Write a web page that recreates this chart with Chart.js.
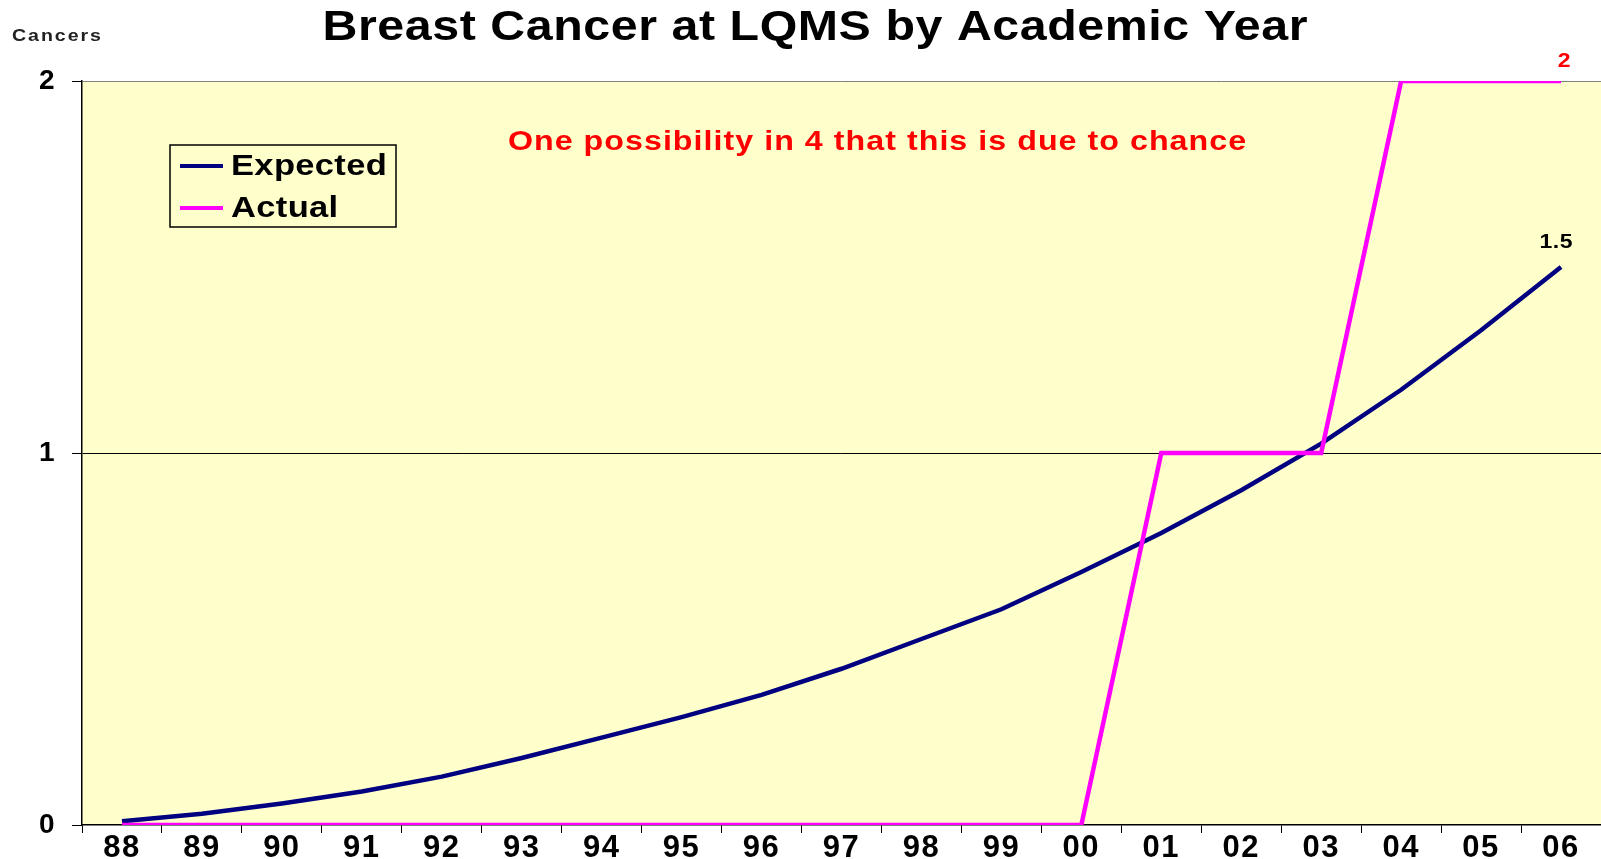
<!DOCTYPE html>
<html>
<head>
<meta charset="utf-8">
<script src="https://cdn.jsdelivr.net/npm/chart.js@4.4.1/dist/chart.umd.min.js"></script>
<style>
  html, body { margin: 0; padding: 0; background: #fff; }
  #wrap { width: 1601px; height: 859px; }
</style>
</head>
<body>
<div id="wrap"><canvas id="cancerChart" width="1601" height="859"></canvas></div>
<script>
// Academic years and case counts
const years = ['88', '89', '90', '91', '92', '93', '94', '95', '96', '97',
  '98', '99', '00', '01', '02', '03', '04', '05', '06'];
const expected = [0.01, 0.03, 0.058, 0.09, 0.13, 0.18, 0.235, 0.29, 0.35, 0.42,
  0.5, 0.58, 0.68, 0.785, 0.9, 1.025, 1.17, 1.33, 1.5];
const actual = [0, 0, 0, 0, 0, 0, 0, 0, 0, 0, 0, 0, 0, 1, 1, 1, 2, 2, 2];
const yTicks = [0, 1, 2];

const FONT = 'Liberation Sans, Arial, sans-serif';
const NAVY = '#000080';
const MAGENTA = '#FF00FF';

// the original lettering is Arial bold stretched sideways
function wideText(ctx, text, x, y, stretch, spacing) {
  ctx.save();
  ctx.translate(x, y);
  ctx.scale(stretch, 1);
  ctx.letterSpacing = spacing + 'px';
  ctx.fillText(text, ctx.textAlign === 'center' ? spacing / 2 : 0, 0);
  ctx.restore();
}

// Plot background, title, labels, legend and note
const decorations = {
  id: 'decorations',
  beforeDraw(chart) {
    const { ctx, chartArea: a } = chart;
    ctx.fillStyle = '#FFFFCC';
    ctx.fillRect(a.left, a.top, a.right - a.left, a.bottom - a.top);
    ctx.letterSpacing = '1.5px';
  },
  afterDraw(chart) {
    const { ctx } = chart;
    const x = chart.scales.x;
    const y = chart.scales.y;
    ctx.save();
    ctx.textBaseline = 'middle';

    // title
    ctx.fillStyle = '#000';
    ctx.font = `bold 42px ${FONT}`;
    ctx.textAlign = 'center';
    wideText(ctx, 'Breast Cancer at LQMS by Academic Year', 815, 28, 1.15, 0.5);

    // axis caption
    ctx.fillStyle = '#222';
    ctx.font = `bold 17px ${FONT}`;
    ctx.textAlign = 'left';
    wideText(ctx, 'Cancers', 12, 36, 1.15, 1.7);

    // note
    ctx.fillStyle = '#FF0000';
    ctx.font = `bold 28px ${FONT}`;
    ctx.textAlign = 'center';
    wideText(ctx, 'One possibility in 4 that this is due to chance', 877, 142, 1.15, 0.9);

    // end-point labels
    const last = years.length - 1;
    ctx.font = `bold 20px ${FONT}`;
    ctx.fillStyle = '#FF0000';
    wideText(ctx, String(actual[last]), x.getPixelForValue(last) + 3, y.getPixelForValue(actual[last]) - 20, 1.15, 0);
    ctx.fillStyle = '#000';
    wideText(ctx, String(expected[last]), x.getPixelForValue(last) - 5, y.getPixelForValue(expected[last]) - 25, 1.15, 0.5);

    // legend box
    const lx = 170, ly = 145, lw = 226, lh = 82;
    ctx.fillStyle = '#FFFFCC';
    ctx.fillRect(lx, ly, lw, lh);
    ctx.strokeStyle = '#000';
    ctx.lineWidth = 1.5;
    ctx.strokeRect(lx, ly, lw, lh);
    ctx.font = `bold 30px ${FONT}`;
    ctx.textAlign = 'left';
    chart.data.datasets.forEach((ds, i) => {
      const cy = ly + 21 + i * 42;
      ctx.strokeStyle = ds.borderColor;
      ctx.lineWidth = 4;
      ctx.beginPath();
      ctx.moveTo(lx + 10, cy);
      ctx.lineTo(lx + 53, cy);
      ctx.stroke();
      ctx.fillStyle = '#000';
      wideText(ctx, ds.label, lx + 61, cy + 1, 1.15, 0.3);
    });
    ctx.restore();
  }
};

new Chart(document.getElementById('cancerChart'), {
  type: 'line',
  data: {
    labels: years,
    datasets: [
      {
        label: 'Expected',
        data: expected,
        borderColor: NAVY,
        backgroundColor: NAVY,
        borderWidth: 4.5,
        pointRadius: 0,
        tension: 0,
        order: 1
      },
      {
        label: 'Actual',
        data: actual,
        borderColor: MAGENTA,
        backgroundColor: MAGENTA,
        borderWidth: 4.5,
        pointRadius: 0,
        tension: 0,
        order: 0
      }
    ]
  },
  options: {
    responsive: false,
    animation: false,
    layout: { padding: { top: 81 } },
    plugins: {
      legend: { display: false },
      tooltip: { enabled: false },
      title: { display: false }
    },
    scales: {
      x: {
        offset: true,
        afterFit: s => { s.height = 34; },
        grid: {
          offset: true,
          drawOnChartArea: false,
          drawTicks: true,
          tickLength: 8,
          tickColor: '#000'
        },
        border: { color: '#000', width: 1.5 },
        ticks: {
          color: '#000',
          font: { family: FONT, size: 31, weight: 'bold' },
          padding: -3,
          maxRotation: 0,
          autoSkip: false
        }
      },
      y: {
        min: 0,
        max: 2,
        afterFit: s => { s.width = 82; },
        afterBuildTicks: s => { s.ticks = yTicks.map(v => ({ value: v })); },
        grid: {
          color: c => c.tick && c.tick.value === 1 ? '#000' : (c.tick && c.tick.value === 2 ? '#808080' : 'rgba(0,0,0,0)'),
          lineWidth: 1,
          drawTicks: true,
          tickLength: 10,
          tickColor: '#000'
        },
        border: { color: '#000', width: 1.5 },
        ticks: {
          color: '#000',
          font: { family: FONT, size: 28, weight: 'bold' },
          padding: 16
        }
      }
    }
  },
  plugins: [decorations]
});
</script>
</body>
</html>
